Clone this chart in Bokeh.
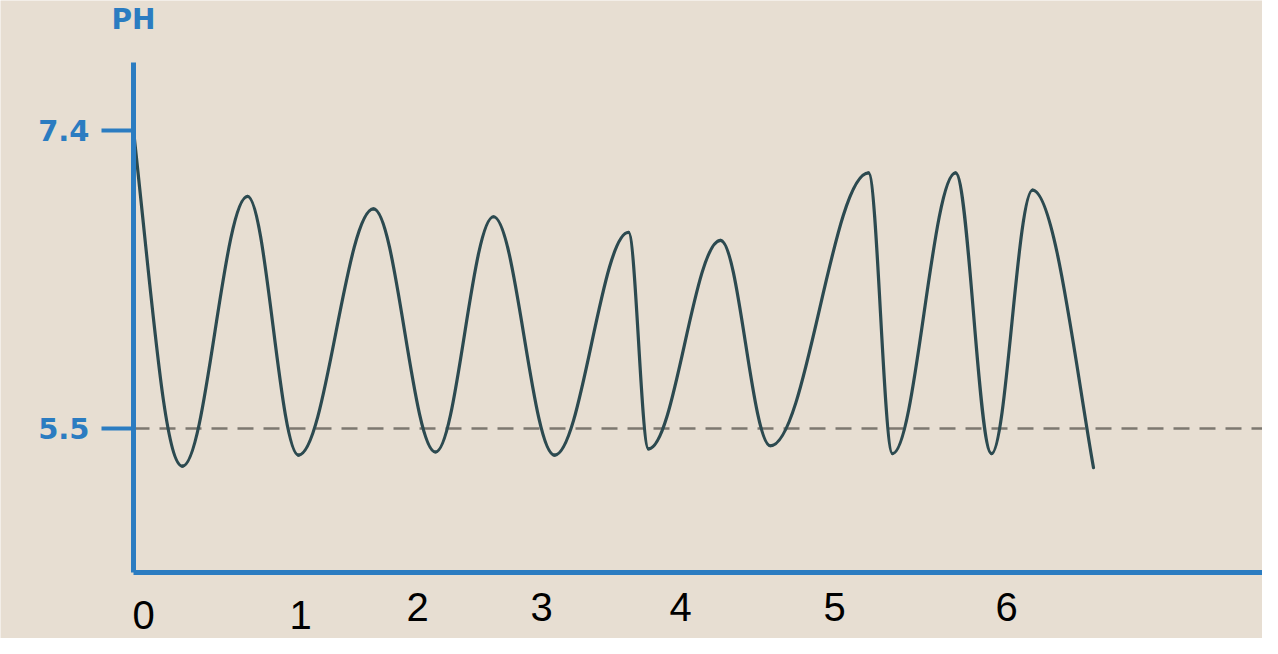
from bokeh.plotting import figure
from bokeh.models import ColumnDataSource, LabelSet, Label, FixedTicker, Range1d
from bokeh.core.properties import value
from bokeh.embed import file_html
from bokeh.resources import INLINE

# ---- data ----
# turning points of the pH curve (time in arbitrary units, pH)
time_x = [0.00, 0.49, 1.14, 1.65, 2.40, 3.02, 3.60, 4.21, 4.95, 5.15,
          5.87, 6.37, 7.35, 7.59, 8.22, 8.58, 8.99, 9.60]
ph_values = [7.40, 5.26, 6.98, 5.33, 6.90, 5.35, 6.85, 5.33, 6.75, 5.37,
             6.70, 5.39, 7.13, 5.34, 7.13, 5.34, 7.02, 5.25]

ph_ticks = [5.5, 7.4]
threshold = 5.5
y_title = "PH"

x_tick_text = ["0", "1", "2", "3", "4", "5", "6"]
x_tick_pos = [0.10, 1.67, 2.84, 4.08, 5.47, 7.01, 8.73]
x_tick_row = [4.308, 4.308, 4.365, 4.365, 4.365, 4.365, 4.365]

# axis extents (data units)
ph_axis_min, ph_axis_max = 4.582, 7.834
time_axis_min, time_axis_max = 0.0, 11.29

# ---- styles ----
BG = "#e7ded2"
BLUE = "#2b7cc1"
CURVE = "#2c4a50"
DASH = "#7d7870"

p = figure(width=1262, height=638, output_backend="svg", toolbar_location=None,
           x_range=Range1d(-1.33, 11.29), y_range=Range1d(4.161, 8.229),
           min_border_left=0, min_border_right=0, min_border_top=0,
           min_border_bottom=0, title=None)
p.background_fill_color = BG
p.border_fill_color = BG
p.outline_line_color = None
p.grid.visible = False

# left axis, fixed at time 0
ya = p.yaxis[0]
ya.fixed_location = time_axis_min
ya.bounds = (ph_axis_min, ph_axis_max)
ya.ticker = FixedTicker(ticks=ph_ticks)
ya.axis_line_color = BLUE
ya.axis_line_width = 5
ya.major_tick_line_color = BLUE
ya.major_tick_line_width = 4
ya.major_tick_out = 32
ya.major_tick_in = 0
ya.minor_tick_line_color = None
ya.major_label_standoff = 12
ya.major_label_text_color = BLUE
ya.major_label_text_font = "DejaVu Sans"
ya.major_label_text_font_style = "bold"
ya.major_label_text_font_size = "29px"

# bottom axis: line only, fixed at the bottom of the pH scale
xa = p.xaxis[0]
xa.fixed_location = ph_axis_min
xa.bounds = (time_axis_min, time_axis_max)
xa.ticker = FixedTicker(ticks=[])
xa.axis_line_color = BLUE
xa.axis_line_width = 5
xa.major_tick_line_color = None
xa.minor_tick_line_color = None
xa.major_label_text_font_size = "0px"

# threshold line
p.ray(x=[time_axis_min], y=[threshold], length=0, angle=0,
      line_color=DASH, line_width=2.5, line_dash="16 10")

# smooth curve through turning points (cubic Bezier segments)
k = 0.36
x0, y0, x1, y1, cx0, cy0, cx1, cy1 = [], [], [], [], [], [], [], []
n = len(time_x)
for i in range(n - 1):
    ax, ay, bx, by = time_x[i], ph_values[i], time_x[i + 1], ph_values[i + 1]
    dx, dy = bx - ax, by - ay
    if i == 0:
        c0 = (ax + 0.40 * dx, ay + 0.53 * dy)
    else:
        c0 = (ax + k * dx, ay)
    if i == n - 2:
        c1 = (bx - 0.30 * dx, by - 0.375 * dy)
    else:
        c1 = (bx - k * dx, by)
    x0.append(ax); y0.append(ay); x1.append(bx); y1.append(by)
    cx0.append(c0[0]); cy0.append(c0[1]); cx1.append(c1[0]); cy1.append(c1[1])

seg = ColumnDataSource(dict(x0=x0, y0=y0, x1=x1, y1=y1,
                            cx0=cx0, cy0=cy0, cx1=cx1, cy1=cy1))
p.bezier(x0="x0", y0="y0", x1="x1", y1="y1", cx0="cx0", cy0="cy0",
         cx1="cx1", cy1="cy1", source=seg, line_color=CURVE, line_width=3.2,
         line_cap="round")

# y title
p.add_layout(Label(x=time_axis_min, y=8.108, text=y_title, text_align="center",
                   text_baseline="middle", text_color=BLUE,
                   text_font="DejaVu Sans", text_font_style="bold",
                   text_font_size="28px"))

# x labels
lab = ColumnDataSource(dict(x=x_tick_pos, y=x_tick_row, text=x_tick_text))
p.add_layout(LabelSet(x="x", y="y", text="text", source=lab,
                      text_align="center", text_baseline="middle",
                      text_color="#000000", text_font=value("Liberation Sans"),
                      text_font_size=value("40px")))

open("out.html", "w").write(file_html(p, INLINE))
